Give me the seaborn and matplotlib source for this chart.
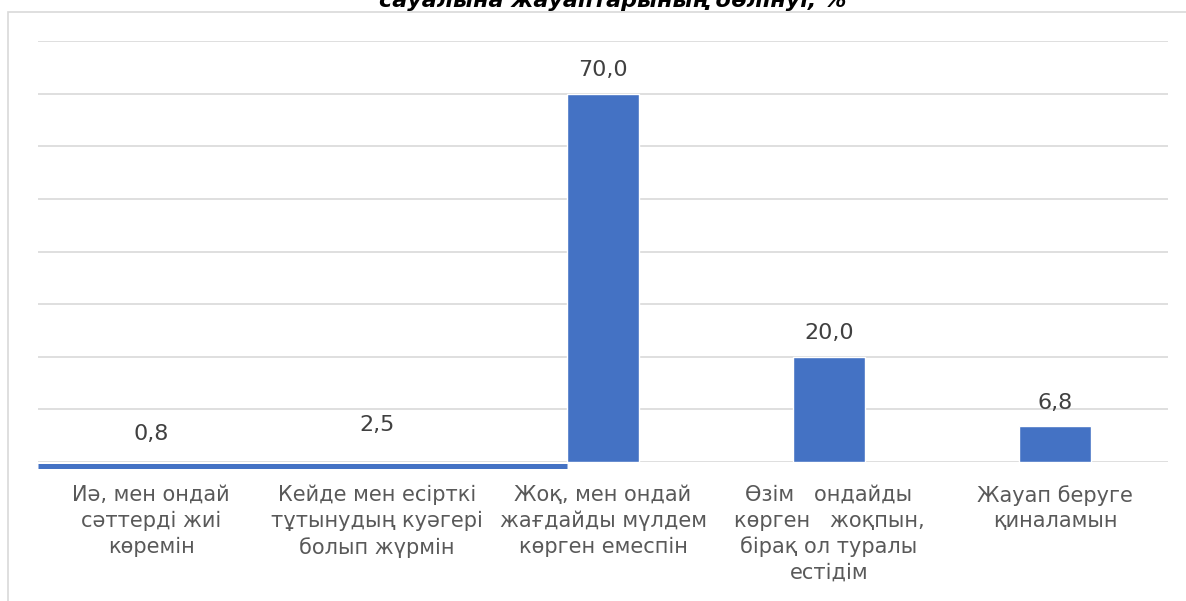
import numpy as np
import pandas as pd
import matplotlib
matplotlib.use("Agg")
import matplotlib.pyplot as plt
import seaborn as sns
from matplotlib.patches import Rectangle

# данные
categories = [
    "Иә, мен ондай\nсәттерді жиі\nкөремін",
    "Кейде мен есірткі\nтұтынудың куәгері\nболып жүрмін",
    "Жоқ, мен ондай\nжағдайды мүлдем\nкөрген емеспін",
    "Өзім   ондайды\nкөрген   жоқпын,\nбірақ ол туралы\nестідім",
    "Жауап беруге\nқиналамын",
]
values = [0.8, 2.5, 70.0, 20.0, 6.8]
title_text = "сауалына жауаптарының бөлінуі, %"

sns.set_style("white")
plt.rcParams["font.family"] = ["DejaVu Sans"]

df = pd.DataFrame({"cat": categories, "val": values})

fig = plt.figure(figsize=(11.86, 6.01), dpi=100)
ax = fig.add_axes([38 / 1186, 1 - 462 / 601, (1168 - 38) / 1186, (462 - 41) / 601])

sns.barplot(data=df, x="cat", y="val", color="#4472C4", saturation=1,
            width=0.32, ax=ax, zorder=3)

ax.set_ylim(0, 80)
ax.set_yticks(np.arange(0, 81, 10))
ax.set_xlim(-0.5, len(categories) - 0.5)
ax.grid(axis="y", color="#d9d9d9", linewidth=1.2, zorder=0)
ax.set_axisbelow(True)
for s in ax.spines.values():
    s.set_visible(False)
ax.tick_params(axis="y", left=False, labelleft=False)
ax.tick_params(axis="x", bottom=False, pad=13)
ax.set_xlabel("")
ax.set_ylabel("")
for lbl in ax.get_xticklabels():
    lbl.set_fontsize(15)
    lbl.set_color("#595959")
    lbl.set_linespacing(1.35)

# подписи значений
for p, v in zip(ax.patches, values):
    ax.annotate(f"{v:.1f}".replace(".", ","),
                (p.get_x() + p.get_width() / 2, p.get_height()),
                xytext=(0, 17), textcoords="offset points",
                ha="center", va="center", fontsize=16, color="#404040")

# первые два столбца в исходнике слились в одну полосу у основания
third = ax.patches[2]
for p in ax.patches[:2]:
    p.set_alpha(0)
ax.plot([-0.5, third.get_x()], [-0.67, -0.67], color="#4472C4",
        linewidth=3.6, solid_capstyle="butt", clip_on=False, zorder=4)

# рамка
fig.patches.append(Rectangle((8 / 1186, -0.01), 1.0, 1 - 11.5 / 601 + 0.01,
                             transform=fig.transFigure, fill=False,
                             edgecolor="#d9d9d9", linewidth=1.2))

fig.text(613 / 1186, 1 - 7 / 601, title_text, ha="center", va="baseline",
         fontsize=16, fontweight="bold", fontstyle="italic", color="#000000")

fig.savefig("out.png", dpi=100)
